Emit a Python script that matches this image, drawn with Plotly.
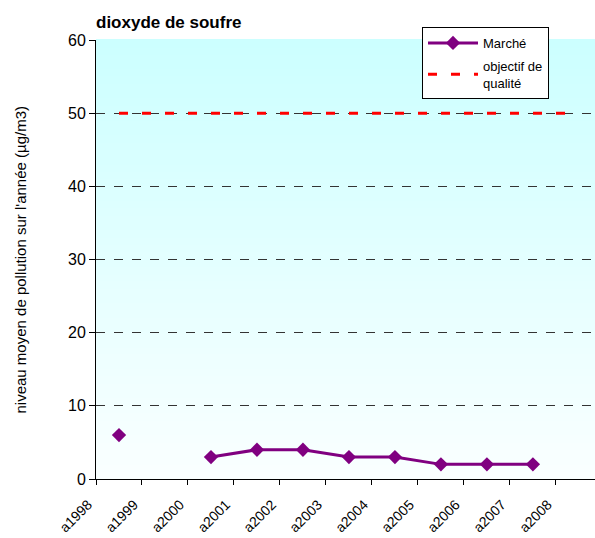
import plotly.graph_objects as go

# --- data ---
tick_labels = ["a1998", "a1999", "a2000", "a2001", "a2002", "a2003",
               "a2004", "a2005", "a2006", "a2007", "a2008"]
marche = [6, None, 3, 4, 4, 3, 3, 2, 2, 2]
objectif = [50, 50, 50, 50, 50, 50, 50, 50, 50, 50, 50]

# category centres lie between tick labels
x_marche = [i + 0.5 for i in range(len(marche))]
x_obj = [i + 0.5 for i in range(len(objectif))]

FONT = "Liberation Sans, Arial, sans-serif"

fig = go.Figure()

fig.add_trace(go.Scatter(
    x=x_marche, y=marche, name="Marché", mode="lines+markers",
    legendgroup="a",
    line=dict(color="#800080", width=3),
    marker=dict(symbol="diamond", size=11, color="#800080"),
    connectgaps=False,
))
fig.add_trace(go.Scatter(
    x=x_obj, y=objectif, name="objectif de<br>qualité", mode="lines",
    legendgroup="b",
    line=dict(color="#FF0000", width=3, dash="9px,14px"),
))

# gradient background (cyan at top fading to white)
n = 60
top = (204, 255, 255)
bot = (250, 255, 255)
shapes = []
for k in range(n):
    t = k / (n - 1)
    c = tuple(round(bot[j] + (top[j] - bot[j]) * t) for j in range(3))
    shapes.append(dict(
        type="rect", xref="paper", yref="paper",
        x0=0, x1=1, y0=k / n, y1=(k + 1) / n + 0.002,
        fillcolor="rgb(%d,%d,%d)" % c, line=dict(width=0), layer="below",
    ))

fig.update_layout(
    width=595, height=538,
    margin=dict(l=96, r=0, t=40, b=59, autoexpand=False),
    paper_bgcolor="white", plot_bgcolor="white",
    shapes=shapes,
    font=dict(family=FONT, color="black"),
    title=dict(
        text="<b>dioxyde de soufre</b>",
        font=dict(family=FONT, size=17, color="black"),
        xref="paper", x=0, xanchor="left",
        yref="container", y=1 - 22 / 538, yanchor="middle",
    ),
    xaxis=dict(
        range=[0, 10.85], tickmode="array",
        tickvals=list(range(len(tick_labels))), ticktext=tick_labels,
        tickangle=-45, ticks="outside", ticklen=5, tickcolor="black",
        showgrid=False, zeroline=False, showline=True, linecolor="black",
        linewidth=1, tickfont=dict(size=14, family=FONT), automargin=False,
        ticklabelstandoff=6, ticklabelshift=-8,
    ),
    yaxis=dict(
        range=[0, 60], dtick=10, ticks="outside", ticklen=6, tickcolor="black",
        showgrid=True, gridcolor="#333333", griddash="dash", gridwidth=1,
        zeroline=False, showline=True, linecolor="black", linewidth=1,
        tickfont=dict(size=16, family=FONT), automargin=False,
    ),
    annotations=[dict(
        text="niveau moyen de pollution sur l'année (µg/m3)",
        xref="paper", yref="paper", x=(20 - 96) / 499, y=0.5,
        xanchor="center", yanchor="middle", textangle=-90, showarrow=False,
        font=dict(size=15, family=FONT, color="black"),
    )],
    legend=dict(
        x=(422 - 96) / 499, xanchor="left", y=1 + 13 / 439, yanchor="top",
        bgcolor="white", bordercolor="black", borderwidth=1,
        font=dict(size=13, family=FONT), itemwidth=50,
        tracegroupgap=3,
    ),
    showlegend=True,
)

fig.write_html(
    "out.html",
    config={"displayModeBar": False},
    post_script="document.body.style.margin='0';document.body.style.overflow='hidden';",
)
